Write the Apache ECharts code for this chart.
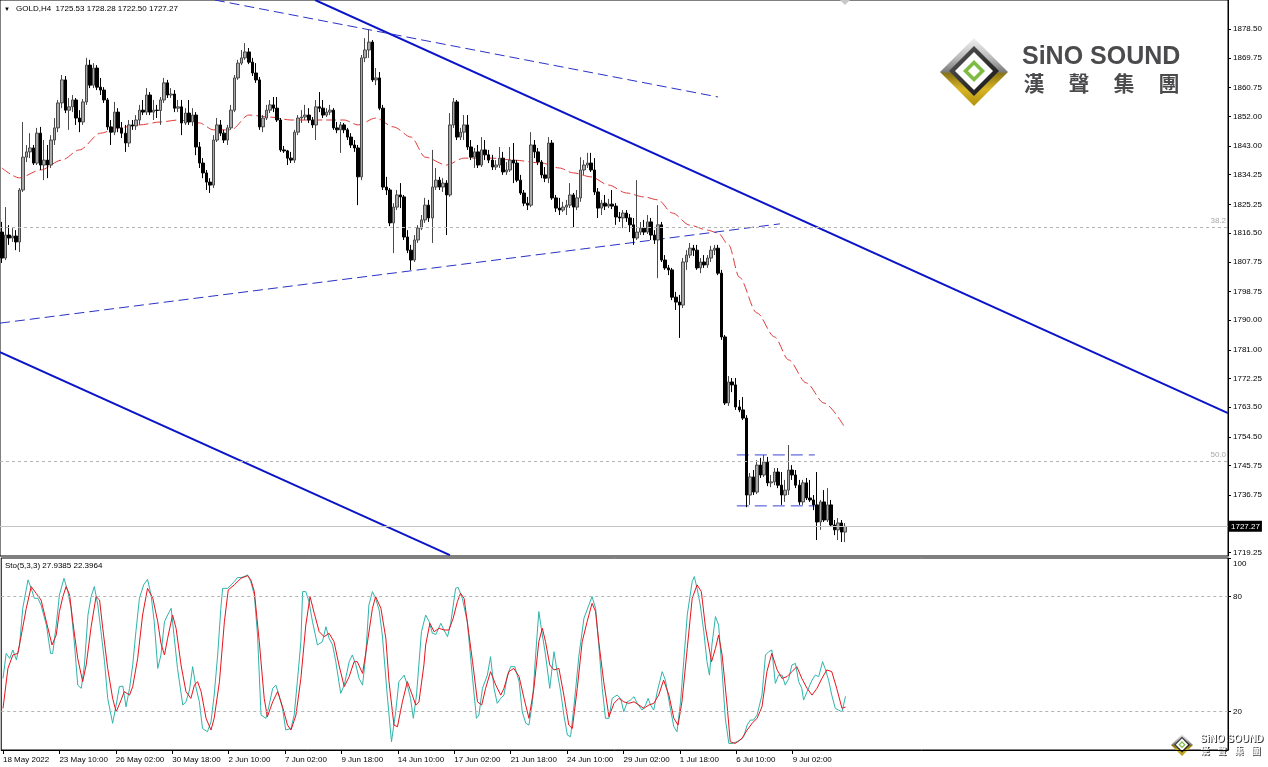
<!DOCTYPE html>
<html><head><meta charset="utf-8">
<script src="https://cdn.jsdelivr.net/npm/echarts@6/dist/echarts.min.js"></script>
<style>html,body{margin:0;padding:0;background:#fff}#c{width:1268px;height:767px}</style>
</head><body><div id="c"></div>
<script>
const FONT = "'Liberation Sans', Arial, sans-serif";
// ---- candle data (GOLD H4) ----
const opens=[1816.8,1808.9,1815.9,1815.0,1815.6,1813.8,1829.6,1839.6,1841.2,1842.4,
1837.8,1846.9,1837.2,1838.7,1837.2,1844.8,1848.5,1856.1,1863.1,1853.9,
1854.9,1857.0,1851.5,1850.3,1856.4,1867.6,1861.5,1866.7,1860.9,1860.0,
1857.0,1848.8,1847.2,1853.3,1848.5,1846.9,1843.9,1849.4,1849.1,1850.9,
1853.9,1853.3,1858.5,1853.3,1853.9,1853.8,1857.0,1862.2,1858.5,1858.8,
1854.5,1854.9,1850.0,1853.0,1850.3,1852.4,1842.7,1837.8,1834.8,1832.0,
1831.1,1844.8,1849.4,1846.9,1844.8,1848.5,1853.9,1863.7,1868.2,1869.8,
1871.6,1868.5,1865.2,1863.1,1848.8,1851.5,1853.9,1855.5,1854.5,1850.9,
1841.8,1841.5,1839.3,1838.7,1847.2,1851.5,1851.8,1852.4,1850.9,1849.4,
1854.9,1854.5,1852.4,1853.3,1853.9,1848.5,1847.9,1849.4,1847.9,1845.7,
1843.3,1842.4,1833.6,1869.8,1872.2,1874.6,1863.1,1863.7,1854.5,1830.5,
1829.6,1819.6,1824.4,1828.1,1827.5,1815.3,1811.3,1808.3,1814.4,1818.0,
1820.5,1825.0,1821.1,1830.5,1832.6,1830.5,1831.7,1828.1,1849.4,1856.4,
1845.7,1847.2,1849.4,1842.7,1839.6,1841.2,1837.2,1841.8,1840.3,1838.7,
1836.6,1837.2,1839.3,1835.1,1835.7,1838.7,1837.8,1832.6,1828.7,1825.6,
1825.0,1843.3,1841.2,1838.1,1834.2,1833.2,1843.9,1827.2,1824.1,1823.5,
1824.4,1825.0,1828.1,1824.4,1827.2,1835.7,1837.2,1837.8,1835.7,1829.0,
1824.1,1825.6,1824.7,1825.3,1824.7,1821.4,1821.1,1822.6,1821.1,1819.0,
1815.0,1816.8,1818.0,1816.8,1819.9,1815.9,1814.4,1819.0,1808.3,1805.9,
1805.3,1797.0,1795.5,1794.6,1807.7,1809.8,1811.9,1811.3,1805.9,1807.7,
1806.8,1808.9,1811.3,1811.9,1804.3,1784.9,1764.8,1771.2,1770.3,1763.6,
1762.7,1760.2,1736.8,1742.3,1737.7,1745.9,1742.9,1746.8,1740.5,1740.8,
1743.8,1739.8,1736.8,1738.3,1744.4,1742.9,1739.8,1734.7,1740.5,1735.9,
1735.3,1733.8,1728.6,1734.7,1729.2,1733.8,1727.7,1726.2,1728.3,1725.53];
const closes=[1808.9,1815.9,1815.0,1815.6,1813.8,1829.6,1839.6,1841.2,1842.4,1837.8,
1846.9,1837.2,1838.7,1837.2,1844.8,1848.5,1856.1,1863.1,1853.9,1854.9,
1857.0,1851.5,1850.3,1856.4,1867.6,1861.5,1866.7,1860.9,1860.0,1857.0,
1848.8,1847.2,1853.3,1848.5,1846.9,1843.9,1849.4,1849.1,1850.9,1853.9,
1853.3,1858.5,1853.3,1853.9,1853.8,1857.0,1862.2,1858.5,1858.8,1854.5,
1854.9,1850.0,1853.0,1850.3,1852.4,1842.7,1837.8,1834.8,1832.0,1831.1,
1844.8,1849.4,1846.9,1844.8,1848.5,1853.9,1863.7,1868.2,1869.8,1871.6,
1868.5,1865.2,1863.1,1848.8,1851.5,1853.9,1855.5,1854.5,1850.9,1841.8,
1841.5,1839.3,1838.7,1847.2,1851.5,1851.8,1852.4,1850.9,1849.4,1854.9,
1854.5,1852.4,1853.3,1853.9,1848.5,1847.9,1849.4,1847.9,1845.7,1843.3,
1842.4,1833.6,1869.8,1872.2,1874.6,1863.1,1863.7,1854.5,1830.5,1829.6,
1819.6,1824.4,1828.1,1827.5,1815.3,1811.3,1808.3,1814.4,1818.0,1820.5,
1825.0,1821.1,1830.5,1832.6,1830.5,1831.7,1828.1,1849.4,1856.4,1845.7,
1847.2,1849.4,1842.7,1839.6,1841.2,1837.2,1841.8,1840.3,1838.7,1836.6,
1837.2,1839.3,1835.1,1835.7,1838.7,1837.8,1832.6,1828.7,1825.6,1825.0,
1843.3,1841.2,1838.1,1834.2,1833.2,1843.9,1827.2,1824.1,1823.5,1824.4,
1825.0,1828.1,1824.4,1827.2,1835.7,1837.2,1837.8,1835.7,1829.0,1824.1,
1825.6,1824.7,1825.3,1824.7,1821.4,1821.1,1822.6,1821.1,1819.0,1815.0,
1816.8,1818.0,1816.8,1819.9,1815.9,1814.4,1819.0,1808.3,1805.9,1805.3,
1797.0,1795.5,1794.6,1807.7,1809.8,1811.9,1811.3,1805.9,1807.7,1806.8,
1808.9,1811.3,1811.9,1804.3,1784.9,1764.8,1771.2,1770.3,1763.6,1762.7,
1760.2,1736.8,1742.3,1737.7,1745.9,1742.9,1746.8,1740.5,1740.8,1743.8,
1739.8,1736.8,1738.3,1744.4,1742.9,1739.8,1734.7,1740.5,1735.9,1735.3,
1733.8,1728.6,1734.7,1729.2,1733.8,1727.7,1726.2,1728.3,1725.53,1727.27];
const lows=[1807.4,1808.3,1812.9,1813.8,1811.3,1810.7,1829.0,1838.1,1839.3,1837.2,
1837.2,1835.7,1832.6,1833.2,1836.3,1843.3,1847.2,1854.5,1853.0,1847.9,
1853.3,1849.4,1847.2,1849.4,1855.5,1860.6,1860.6,1860.0,1858.5,1856.1,
1847.9,1843.3,1846.3,1847.2,1845.4,1841.2,1842.7,1847.9,1847.9,1849.4,
1852.4,1852.4,1852.4,1850.9,1851.5,1849.4,1856.1,1857.6,1857.6,1853.3,
1853.3,1846.3,1849.4,1849.4,1849.1,1840.2,1836.3,1833.2,1829.6,1828.7,
1830.2,1844.2,1846.0,1843.9,1843.3,1847.9,1853.3,1863.1,1867.6,1869.2,
1867.9,1864.3,1862.2,1847.9,1847.2,1850.9,1853.0,1853.3,1850.3,1841.2,
1840.9,1837.2,1837.8,1837.8,1846.3,1850.0,1850.9,1850.0,1848.5,1844.8,
1853.3,1851.5,1851.8,1852.4,1847.9,1846.9,1840.9,1846.9,1844.8,1842.4,
1841.2,1825.0,1832.6,1868.5,1869.8,1862.5,1861.5,1853.9,1829.6,1828.1,
1818.6,1810.4,1823.5,1824.1,1814.4,1810.4,1805.3,1807.7,1813.5,1817.4,
1819.6,1819.9,1813.5,1829.6,1829.6,1829.0,1815.9,1827.5,1848.5,1844.8,
1844.8,1844.8,1841.8,1838.7,1836.3,1836.3,1836.6,1838.7,1837.8,1835.7,
1835.7,1836.3,1834.2,1834.2,1835.1,1831.7,1832.0,1828.1,1824.7,1823.5,
1824.4,1839.3,1837.2,1833.2,1832.0,1831.7,1826.6,1822.9,1822.0,1822.9,
1822.0,1824.1,1818.3,1823.5,1826.0,1834.2,1836.3,1835.1,1828.1,1821.1,
1822.0,1823.5,1824.1,1823.8,1819.0,1819.9,1818.0,1819.9,1816.8,1812.9,
1814.4,1815.9,1815.9,1816.2,1814.4,1813.2,1802.8,1807.7,1805.3,1803.7,
1796.1,1793.1,1784.6,1793.7,1805.3,1808.9,1809.5,1805.3,1804.3,1805.9,
1805.9,1807.7,1809.8,1803.7,1784.0,1764.2,1763.9,1768.1,1762.7,1762.0,
1759.6,1733.1,1733.8,1736.8,1737.1,1742.0,1742.3,1739.5,1739.2,1739.8,
1738.9,1733.8,1734.7,1736.8,1741.4,1738.9,1733.8,1733.8,1735.3,1734.7,
1732.2,1723.1,1726.2,1728.6,1728.6,1727.1,1724.6,1723.1,1722.5,1722.50];
const highs=[1819.9,1824.4,1818.9,1818.0,1817.4,1830.2,1850.3,1843.3,1846.9,1843.3,
1848.5,1848.8,1844.8,1843.3,1846.3,1851.5,1857.0,1864.6,1864.3,1857.6,
1858.5,1857.6,1853.9,1857.3,1869.8,1869.2,1868.2,1867.6,1863.7,1860.9,
1857.6,1850.9,1856.4,1854.5,1850.3,1849.4,1850.9,1850.9,1852.4,1855.5,
1857.0,1860.6,1859.4,1857.0,1855.5,1857.9,1863.7,1863.1,1860.6,1860.0,
1857.0,1857.0,1854.5,1857.0,1854.5,1853.3,1844.2,1839.3,1835.7,1833.2,
1846.3,1851.5,1850.9,1847.9,1849.4,1855.5,1864.6,1869.2,1872.2,1874.3,
1872.8,1869.8,1868.2,1864.0,1852.4,1855.5,1857.0,1857.9,1857.9,1851.5,
1843.0,1841.8,1841.2,1847.9,1852.4,1853.9,1855.5,1854.5,1851.8,1857.0,
1859.4,1857.0,1854.5,1855.5,1854.5,1850.3,1850.3,1850.0,1848.5,1846.9,
1844.8,1843.3,1870.7,1875.8,1878.3,1875.2,1866.7,1865.5,1855.5,1833.6,
1830.2,1825.6,1829.6,1831.7,1828.1,1817.4,1812.9,1815.9,1818.9,1822.0,
1827.2,1826.6,1841.8,1836.3,1833.6,1833.2,1832.6,1853.0,1857.6,1857.0,
1848.5,1852.4,1852.4,1844.8,1842.4,1843.3,1845.7,1844.8,1841.8,1840.3,
1838.7,1842.7,1841.2,1838.1,1842.7,1843.9,1838.7,1834.2,1829.6,1827.5,
1847.2,1844.8,1842.4,1838.7,1836.6,1845.7,1844.8,1828.1,1827.2,1826.0,
1826.6,1831.7,1828.7,1829.6,1839.6,1838.7,1840.9,1840.9,1839.3,1830.2,
1826.6,1828.1,1826.9,1829.6,1825.6,1822.9,1823.5,1823.5,1822.3,1821.1,
1832.6,1819.9,1820.5,1822.0,1821.1,1817.4,1825.0,1819.9,1809.8,1806.8,
1805.9,1798.6,1797.7,1808.9,1811.3,1813.5,1812.9,1812.9,1808.9,1809.8,
1809.8,1812.6,1812.9,1812.9,1805.3,1785.5,1773.0,1772.4,1772.4,1765.7,
1766.6,1761.1,1743.5,1744.4,1747.4,1748.1,1749.0,1748.4,1742.9,1745.0,
1745.0,1743.8,1741.4,1752.0,1745.9,1744.4,1741.4,1741.4,1742.0,1741.4,
1736.8,1743.8,1735.3,1738.3,1738.9,1735.3,1729.2,1729.8,1729.2,1728.28];

// moving average (read at selected bars)
const maIdx=[0,5,11,17,22,28,33,39,45,50,56,60,65,70,76,82,92,97,101,106,111,116,120,126,131,139,145,153,158,162,167,172,177,182,186,190,195,200,203,206,209,214,219,223,228,233,239];
const maVal=[1836.3,1833.3,1835.7,1838.7,1841.8,1846.9,1848.5,1849.4,1850.3,1850.9,1850.0,1847.9,1847.9,1852.4,1851.8,1850.9,1850.9,1850.9,1849.4,1851.5,1848.8,1845.7,1839.6,1837.2,1839.3,1839.3,1838.7,1837.8,1836.3,1834.8,1833.6,1831.1,1828.7,1827.5,1826.6,1822.6,1818.9,1817.4,1816.5,1812.9,1803.1,1792.2,1784.9,1777.9,1770.9,1764.8,1757.2];

// drawn objects (bar index, price)
const resistSolidX=[88.8,347.5], resistSolidY=[1887.4,1761.7];
const supportSolidX=[-0.5,127.0], supportSolidY=[1780.3,1718.5];
const upperDashX=[60.4,203.0], upperDashY=[1887.4,1857.9];
const lowerDashX=[-0.5,220.5], lowerDashY=[1789.1,1819.3];
const boxX=[208.3,230.4], boxTop=1749.0, boxBottom=1733.5;
const fib382=1818.4, fib500=1747.2, lastPrice=1727.27;

// stochastic (5,3,3)
const stoKX=[0,0.9,1.9,2.8,3.8,4.7,5.6,7.1,8.0,8.9,9.9,10.8,12.3,13.5,14.1,15.1,16.0,17.3,18.4,19.3,20.3,21.2,22.2,23.1,24.1,25.0,25.9,26.9,27.8,28.8,29.7,31.1,32.1,33.0,34.0,34.9,35.9,36.8,37.7,38.7,39.9,41.0,42.0,42.9,43.9,44.8,45.8,46.7,47.7,48.6,49.5,51.0,51.9,52.9,53.8,54.7,55.7,56.6,58.0,59.0,59.9,60.9,61.8,62.3,63.7,64.7,65.6,66.5,67.5,68.4,69.4,70.3,71.3,72.2,73.2,74.6,75.5,76.5,77.4,78.3,79.3,80.2,81.7,82.6,83.5,84.5,85.0,85.9,86.8,87.8,89.2,90.6,91.6,92.5,93.5,94.4,95.8,96.8,98.2,99.1,100.1,101.0,102.0,102.9,103.8,104.8,105.7,106.7,107.6,109.0,110.2,111.4,112.3,113.8,114.7,115.6,116.4,117.3,118.7,
119.9,120.9,121.8,122.8,124.2,125.1,126.1,127.0,128.4,129.1,130.3,131.7,133.2,134.3,135.0,136.0,137.4,138.3,139.3,140.2,141.2,142.1,143.1,144.0,145.2,146.4,147.3,148.3,149.2,150.2,151.1,152.0,153.0,153.9,155.1,156.3,157.2,158.2,159.1,160.1,161.0,162.0,163.4,164.8,166.2,167.1,168.1,169.0,170.0,170.9,171.9,172.8,174.2,175.2,176.1,177.1,178.0,179.0,179.9,181.3,182.3,183.0,183.7,184.6,185.6,187.0,187.9,189.3,190.3,191.2,192.2,193.1,194.1,195.5,196.1,196.9,197.8,198.8,199.7,200.4,201.1,202.1,203.0,204.0,204.9,205.9,206.8,208.2,209.2,210.1,211.1,212.0,212.9,213.9,215.3,216.3,217.2,218.1,219.1,220.0,221.0,221.9,222.9,223.8,224.8,225.7,226.6,227.1,228.1,229.5,230.4,231.4,232.5,233.2,234.2,235.1,236.1,237.0,238.0,239];
const stoKV=[37.3,50.3,47.7,52.1,46.9,54.7,73.8,88.6,84.2,79.0,79.0,75.5,65.1,50.3,50.3,65.1,80.7,89.4,82.5,73.8,54.7,33.8,32.1,44.3,70.3,79.9,85.1,75.5,61.6,46.0,26.9,13.9,23.4,33.0,33.3,22.5,32.1,44.3,61.6,79.0,86.0,88.9,80.7,66.8,42.5,49.5,66.8,70.3,73.8,58.2,42.5,23.4,25.1,31.2,43.4,33.0,25.1,11.2,9.5,14.7,28.6,49.5,73.8,84.2,84.2,86.0,87.7,89.8,89.8,90.3,91.2,87.7,80.7,59.9,18.2,16.5,23.4,32.1,33.8,28.6,21.7,10.4,11.2,18.2,35.6,56.4,82.5,82.5,77.3,66.8,54.7,56.4,64.2,58.2,54.7,46.0,29.5,33.8,46.0,49.5,44.3,37.3,33.8,49.5,75.5,82.5,79.0,72.9,59.9,28.6,4.3,19.9,35.6,39.0,33.8,26.9,16.5,28.6,61.6,
70.3,66.8,60.8,60.2,66.0,62.5,59.0,66.0,84.2,84.7,79.0,66.8,37.3,16.5,18.2,32.1,39.0,48.6,32.1,24.3,26.9,28.6,39.0,43.4,43.4,35.6,19.9,13.9,13.0,25.1,49.5,72.1,59.9,49.5,32.1,51.2,40.8,30.4,18.2,7.8,6.9,23.4,49.5,68.6,75.5,79.9,73.8,54.7,32.1,16.5,16.5,26.9,28.6,26.9,19.9,25.1,26.0,27.8,24.3,20.8,23.4,26.9,23.4,20.8,30.4,40.8,36.4,21.7,12.1,9.5,25.1,46.0,70.3,87.7,90.3,84.2,75.5,61.6,46.0,39.0,54.7,69.5,65.1,40.8,16.5,3.4,3.4,4.3,5.2,6.9,13.0,15.6,15.6,18.2,28.6,49.5,51.2,52.1,34.7,39.0,39.0,33.8,37.3,44.3,45.1,35.6,32.1,26.0,30.4,36.4,39.0,38.2,46.0,42.5,36.4,28.6,21.7,20.8,19.9,27.94];
const stoDX=[0,1.4,2.8,4.2,5.2,6.6,8.0,9.4,10.8,12.3,13.9,15.1,16.0,17.0,17.9,18.9,19.8,21.2,22.6,23.6,25.0,26.4,27.4,28.3,29.7,31.1,32.1,33.5,34.4,35.9,36.8,38.2,39.6,41.0,42.5,43.9,44.8,45.8,46.7,48.1,49.1,50.5,51.9,53.3,54.3,55.2,56.2,57.6,59.0,59.9,61.4,62.8,63.9,65.6,67.5,69.4,70.3,71.3,72.7,74.1,75.0,76.5,77.9,79.3,80.7,81.7,83.1,84.5,85.9,87.1,88.3,89.7,91.1,92.5,93.9,95.3,96.8,98.2,99.6,100.5,102.0,103.4,104.8,105.7,107.2,108.6,109.5,110.9,111.9,113.3,114.7,116.1,117.1,118.0,119.4,
119.9,121.1,122.3,123.7,125.1,126.5,127.7,128.9,129.8,130.8,131.7,133.2,134.6,135.8,136.9,138.3,139.8,141.2,142.1,143.5,144.9,146.4,147.8,149.2,150.6,152.0,153.0,153.9,155.1,156.3,157.7,159.1,160.5,161.5,162.9,164.3,165.7,167.1,168.1,169.0,170.4,171.9,173.3,174.7,176.1,177.5,179.0,180.4,181.8,183.2,184.6,186.0,187.4,188.9,190.3,191.5,192.6,194.1,195.5,196.9,198.1,199.3,201.0,202.1,203.0,204.0,205.4,206.3,207.7,209.6,211.1,212.5,213.9,215.3,216.7,218.1,219.6,221.0,222.4,223.8,225.2,226.6,228.1,229.5,230.9,232.3,233.7,235.1,236.5,238.0,239];
const stoDV=[21.7,42.5,49.5,50.3,59.9,73.8,85.1,81.6,78.1,66.8,54.7,59.9,72.1,79.9,85.1,80.7,66.8,47.7,35.6,44.3,64.2,79.9,78.1,63.4,42.5,26.9,19.9,26.0,30.4,28.6,33.0,47.7,70.3,84.2,79.0,66.8,55.6,49.5,58.2,70.3,63.4,44.3,30.4,26.9,33.8,35.6,30.4,16.5,10.4,16.5,35.6,66.8,83.4,86.0,89.4,90.8,88.6,82.5,56.4,26.9,17.3,25.1,30.4,22.5,13.0,10.4,18.2,37.3,65.1,79.9,71.2,61.6,59.0,60.8,56.4,44.3,33.0,38.2,46.0,46.0,39.9,56.4,73.8,79.9,73.8,58.2,35.6,13.0,12.1,25.1,35.6,28.6,23.4,25.1,44.3,
54.7,66.0,61.6,63.4,62.5,62.5,68.6,77.3,81.6,79.0,66.8,46.0,25.1,23.4,32.1,40.8,33.8,28.6,32.1,40.8,42.5,38.2,26.9,16.5,32.1,56.4,63.4,56.4,44.3,41.7,42.5,28.6,13.0,11.2,32.1,56.4,66.8,76.4,72.1,56.4,35.6,17.3,24.3,26.9,25.1,24.3,25.1,23.4,21.7,23.4,24.3,28.6,36.4,28.6,16.5,13.0,25.1,52.9,79.0,86.0,82.5,63.4,46.0,52.9,59.9,49.5,23.4,4.3,3.4,6.0,10.4,13.9,16.5,22.5,40.8,50.3,41.7,37.3,38.2,40.8,43.4,37.3,32.1,28.6,32.1,37.3,41.7,40.8,32.1,21.7,22.40];

// axis ticks
const priceTicks=[1878.50,1869.75,1860.75,1852.00,1843.00,1834.25,1825.25,1816.50,1807.75,1798.75,1790.00,1781.00,1772.25,1763.50,1754.50,1745.75,1736.75,1719.25];
const stoTicks=[100,80,20];
const timeIdx=[0,16,32,48,64,80,96,112,128,144,160,176,192,208,224];
const timeLabels=['18 May 2022','23 May 10:00','26 May 02:00','30 May 18:00','2 Jun 10:00','7 Jun 02:00','9 Jun 18:00','14 Jun 10:00','17 Jun 02:00','21 Jun 18:00','24 Jun 10:00','29 Jun 02:00','1 Jul 18:00','6 Jul 10:00','9 Jul 02:00'];

const SLOTS=348;
const slotCats=Array.from({length:SLOTS},(_,i)=>String(i));
const candles=opens.map((o,i)=>[o,closes[i],lows[i],highs[i]]);
const pairs=(xs,ys)=>xs.map((x,i)=>[x,ys[i]]);

function seg(name,data,color,width,type){
  return {name,type:'line',xAxisIndex:1,yAxisIndex:0,data,symbol:'none',silent:true,clip:true,
    lineStyle:{color,width,type},z:3};
}
function diamond(cx,cy,r){return [[cx,cy-r],[cx+r,cy],[cx,cy+r],[cx-r,cy]];}
function emblem(cx,cy,R){
  const s=R/34;
  return [
    {type:'polygon',shape:{points:diamond(cx,cy,R)},style:{fill:new echarts.graphic.LinearGradient(0,0,0,1,[
      {offset:0,color:'#f2f2f2'},{offset:0.3,color:'#b8b8b8'},{offset:0.5,color:'#7a7a7a'},{offset:0.52,color:'#8a7414'},{offset:0.75,color:'#d8b526'},{offset:1,color:'#b2920e'}])}},
    {type:'polygon',shape:{points:diamond(cx,cy-1*s,25*s)},style:{fill:new echarts.graphic.LinearGradient(0,0,1,1,[{offset:0,color:'#5a5a5a'},{offset:1,color:'#111'}])}},
    {type:'polygon',shape:{points:diamond(cx,cy-1*s,19*s)},style:{fill:'#ffffff'}},
    {type:'polygon',shape:{points:diamond(cx,cy-1*s,11*s)},style:{fill:'#7dbb42'}},
    {type:'polygon',shape:{points:diamond(cx,cy-1*s,6*s)},style:{fill:'#ffffff'}}
  ];
}
function txt(x,y,text,font,fill,align){
  return {type:'text',x,y,silent:true,style:{text,font,fill,textAlign:align||'left',align:align||'left',textVerticalAlign:'middle',verticalAlign:'middle'}};
}

const chart=echarts.init(document.getElementById('c'),null,{renderer:'canvas'});
const smallChars=['漢','聲','集','團'];
const graphics=[].concat(
  [txt(4,9,'\u25BC','6px '+FONT,'#000'),
   txt(16,9,'GOLD,H4  1725.53 1728.28 1722.50 1727.27','8px '+FONT,'#000'),
   txt(5,566,'Sto(5,3,3) 27.9385 22.3964','8px '+FONT,'#000'),
   {type:'polygon',shape:{points:[[840,0],[850,0],[845,5]]},style:{fill:'#c8c8c8'}}],
  emblem(974,72,34),
  [txt(1022,57,'SiNO SOUND','bold 25px '+FONT,'#4b4b4d')],
  smallChars.map((c,k)=>txt(1034+k*45,83,c,"bold 21px 'Noto Sans CJK TC'",'#4b4b4d','center')),
  emblem(1182,745,11),
  [txt(1201,740,'SiNO SOUND','bold 10px '+FONT,'#3a3a3a'),
   txt(1200,739,'SiNO SOUND','bold 10px '+FONT,'#ffffff')],
  smallChars.map((c,k)=>txt(1206+k*17,752,c,"bold 9px 'Noto Sans CJK TC'",'#3a3a3a','center')),
  smallChars.map((c,k)=>txt(1205+k*17,751,c,"bold 9px 'Noto Sans CJK TC'",'#ffffff','center'))
);

const option={
  animation:false,
  backgroundColor:'#ffffff',
  textStyle:{fontFamily:FONT},
  grid:[
    {left:0,top:0,width:1228,height:556,show:true,borderColor:'#000',borderWidth:1},
    {left:0,top:558,width:1228,height:192,show:true,borderColor:'#000',borderWidth:1}
  ],
  xAxis:[
    {type:'category',gridIndex:0,data:slotCats,boundaryGap:true,show:false,axisLine:{onZero:false}},
    {type:'value',gridIndex:0,min:-0.5,max:SLOTS-0.5,show:false,axisLine:{onZero:false}},
    {type:'value',gridIndex:1,min:-0.5,max:SLOTS-0.5,position:'bottom',
      axisLine:{show:true,onZero:false,lineStyle:{color:'#000'}},
      axisTick:{show:true,customValues:timeIdx,length:4,lineStyle:{color:'#000'}},
      axisLabel:{show:true,customValues:timeIdx,showMinLabel:true,showMaxLabel:true,
        formatter:v=>timeLabels[timeIdx.indexOf(Math.round(v))]||'',
        align:'left',fontSize:8,color:'#000',margin:6,fontFamily:FONT},
      splitLine:{show:false}}
  ],
  yAxis:[
    {type:'value',gridIndex:0,position:'right',min:1718.25,max:1887.41,
      axisLine:{show:true,onZero:false,lineStyle:{color:'#000'}},
      axisTick:{show:true,customValues:priceTicks,length:3,lineStyle:{color:'#000'}},
      axisLabel:{customValues:priceTicks,formatter:v=>Number(v).toFixed(2),fontSize:8,color:'#000',margin:5,fontFamily:FONT},
      splitLine:{show:false}},
    {type:'value',gridIndex:1,position:'right',min:0,max:100,
      axisLine:{show:true,onZero:false,lineStyle:{color:'#000'}},
      axisTick:{show:true,customValues:stoTicks,length:3,lineStyle:{color:'#000'}},
      axisLabel:{customValues:stoTicks,
        formatter:v=>Math.round(v)===100?'{top|100}':String(Math.round(v)),
        rich:{top:{fontSize:8,color:'#000',fontFamily:FONT,padding:[11,0,0,0]}},
        fontSize:8,color:'#000',margin:5,fontFamily:FONT},
      splitLine:{show:false}}
  ],
  series:[
    {name:'GOLD',type:'candlestick',xAxisIndex:0,yAxisIndex:0,data:candles,barWidth:3,
      itemStyle:{color:'#a9a9a9',color0:'#000000',borderColor:'#4a4a4a',borderColor0:'#000000',borderWidth:1},
      z:4,
      markLine:{silent:true,symbol:['none','none'],animation:false,
        data:[
          {yAxis:fib382,lineStyle:{color:'#b4b4b4',type:[3,3],width:1},label:{show:true,position:'insideEndTop',formatter:'38.2',color:'#a8a8a8',fontSize:8,distance:2}},
          {yAxis:fib500,lineStyle:{color:'#b4b4b4',type:[3,3],width:1},label:{show:true,position:'insideEndTop',formatter:'50.0',color:'#a8a8a8',fontSize:8,distance:2}},
          {yAxis:lastPrice,lineStyle:{color:'#c4c4c4',type:'solid',width:1},label:{show:true,position:'end',formatter:'1727.27',color:'#fff',backgroundColor:'#000',padding:[2,2,1,2],fontSize:8,distance:1}}
        ]}},
    {name:'MA',type:'line',xAxisIndex:1,yAxisIndex:0,data:pairs(maIdx,maVal),symbol:'none',smooth:0.3,smoothMonotone:'x',silent:true,
      lineStyle:{color:'#e03a3a',width:1,type:[10,4]},z:3},
    seg('resist',pairs(resistSolidX,resistSolidY),'#0a14c8',2,'solid'),
    seg('support',pairs(supportSolidX,supportSolidY),'#0a14c8',2,'solid'),
    seg('upperDash',pairs(upperDashX,upperDashY),'#2a32c4',1,[10,5]),
    seg('lowerDash',pairs(lowerDashX,lowerDashY),'#2a32c4',1,[10,5]),
    seg('boxTop',[[boxX[0],boxTop],[boxX[1],boxTop]],'#3c46d2',1,[12,6]),
    seg('boxBottom',[[boxX[0],boxBottom],[boxX[1],boxBottom]],'#3c46d2',1,[12,6]),
    {name:'%K',type:'line',xAxisIndex:2,yAxisIndex:1,data:pairs(stoKX,stoKV),symbol:'none',silent:true,
      lineStyle:{color:'#2fb4ab',width:1},z:3,
      markLine:{silent:true,symbol:['none','none'],label:{show:false},
        data:[{yAxis:80},{yAxis:20}],lineStyle:{color:'#b4b4b4',type:[3,3],width:1}}},
    {name:'%D',type:'line',xAxisIndex:2,yAxisIndex:1,data:pairs(stoDX,stoDV),symbol:'none',silent:true,
      lineStyle:{color:'#e8141c',width:1},z:4}
  ],
  graphic:graphics
};
chart.setOption(option);
</script>
</body></html>
